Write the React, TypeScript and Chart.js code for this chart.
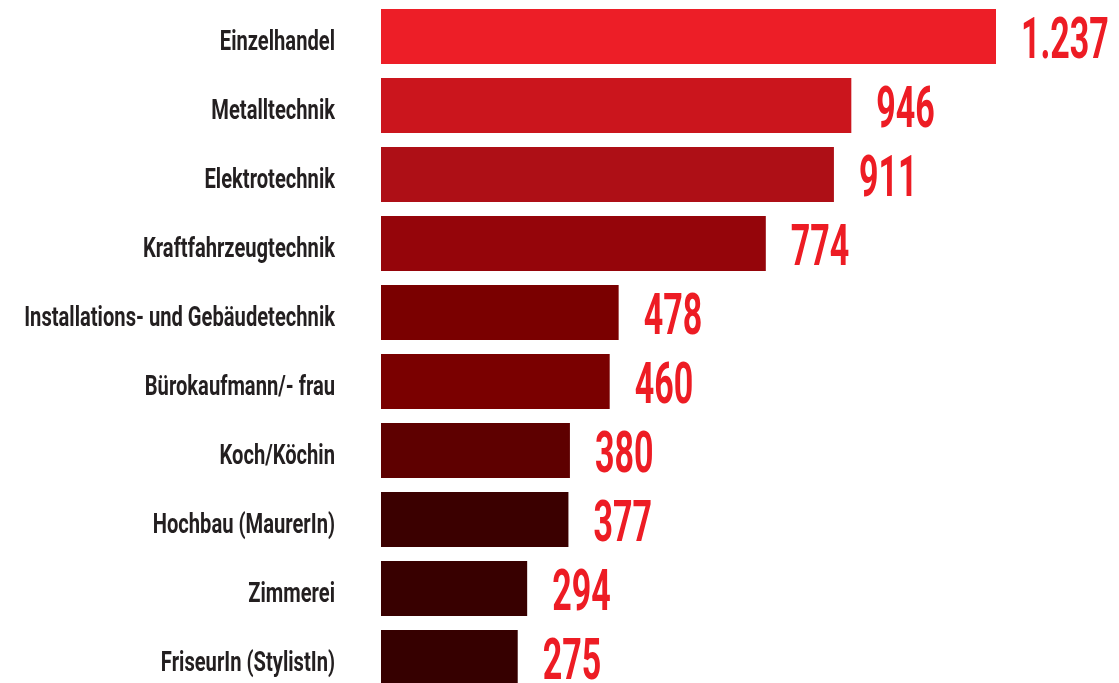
import React, { useEffect, useRef } from "react";
import { Chart, registerables } from "chart.js";

Chart.register(...registerables);

const categories = [
  "Einzelhandel",
  "Metalltechnik",
  "Elektrotechnik",
  "Kraftfahrzeugtechnik",
  "Installations- und Gebäudetechnik",
  "Bürokaufmann/- frau",
  "Koch/Köchin",
  "Hochbau (MaurerIn)",
  "Zimmerei",
  "FriseurIn (StylistIn)",
];

const values = [1237, 946, 911, 774, 478, 460, 380, 377, 294, 275];

const barColors = [
  "#ED1E27",
  "#CB151D",
  "#AE0F16",
  "#95050A",
  "#7A0000",
  "#7A0000",
  "#5E0000",
  "#3B0000",
  "#380000",
  "#360000",
];

const FONT = "Roboto, 'DejaVu Sans Condensed', sans-serif";

function formatDe(v: number): string {
  const s = String(v);
  return s.replace(/\B(?=(\d{3})+(?!\d))/g, ".");
}

const customLabels = {
  id: "customLabels",
  afterDatasetsDraw(chart: any) {
    const ctx = chart.ctx;
    const meta = chart.getDatasetMeta(0);
    const yScale = chart.scales.y;
    ctx.save();

    // category labels (left)
    ctx.font = `bold 27px ${FONT}`;
    const w1 = ctx.measureText(categories[0]).width;
    const w5 = ctx.measureText(categories[4]).width;
    const lsx = (113 + 313) / (w1 + w5);
    const capL = ctx.measureText("E").actualBoundingBoxAscent || 19;
    ctx.fillStyle = "#231F20";
    ctx.textAlign = "right";
    ctx.textBaseline = "alphabetic";
    categories.forEach((c, i) => {
      const y = yScale.getPixelForValue(i);
      ctx.save();
      ctx.translate(yScale.right - 46, y + capL / 2 + 3);
      ctx.scale(lsx, 1);
      ctx.fillText(c, 0, 0);
      ctx.restore();
    });

    // value labels
    ctx.font = `bold 57px ${FONT}`;
    const m0 = ctx.measureText("0");
    const sx = 19.5 / m0.width;
    const capV = m0.actualBoundingBoxAscent || 40;
    ctx.fillStyle = "#ED1C24";
    ctx.textAlign = "left";
    ctx.textBaseline = "alphabetic";
    meta.data.forEach((el: any, i: number) => {
      const txt = formatDe(values[i]);
      ctx.save();
      ctx.translate(el.x + 25, el.y + capV / 2);
      ctx.scale(sx, 1);
      ctx.fillText(txt, 0, 0);
      ctx.restore();
    });
    ctx.restore();
  },
};

export default function App() {
  const ref = useRef<HTMLCanvasElement | null>(null);
  useEffect(() => {
    if (!ref.current) return;
    const chart = new Chart(ref.current, {
      type: "bar",
      data: {
        labels: categories,
        datasets: [
          {
            data: values,
            backgroundColor: barColors,
            borderWidth: 0,
            barPercentage: 0.8,
            categoryPercentage: 1,
          },
        ],
      },
      options: {
        indexAxis: "y",
        responsive: false,
        animation: false,
        layout: { padding: { top: 2, bottom: 2, left: 0, right: 123 } },
        plugins: {
          legend: { display: false },
          tooltip: { enabled: false },
        },
        scales: {
          x: {
            display: false,
            min: 0,
            max: Math.max(...values),
          },
          y: {
            grid: { display: false, drawTicks: false },
            border: { display: false },
            ticks: { display: false, padding: 0 },
            afterFit: (s: any) => {
              s.width = 381;
              s.paddingTop = 0;
              s.paddingBottom = 0;
            },
          },
        },
      },
      plugins: [customLabels],
    });
    return () => chart.destroy();
  }, []);
  return (
    <div
      style={{
        position: "fixed",
        left: 0,
        top: 0,
        width: 1119,
        height: 683,
        overflow: "hidden",
        background: "#ffffff",
      }}
    >
      <canvas ref={ref} width={1119} height={694} style={{ display: "block" }} />
    </div>
  );
}
